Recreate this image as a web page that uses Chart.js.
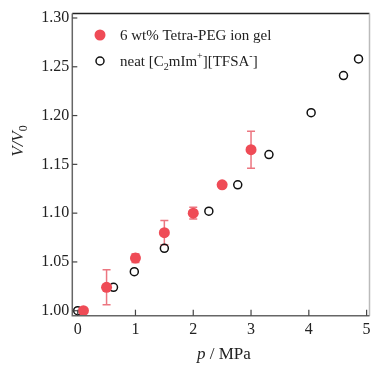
<!DOCTYPE html>
<html><head><meta charset="utf-8">
<script src="https://cdn.jsdelivr.net/npm/chart.js@4.4.0/dist/chart.umd.min.js"></script>
<style>html,body{margin:0;padding:0;background:#fff}#wrap{width:375px;height:366px;position:relative}</style>
</head><body><div id="wrap"><canvas id="c" width="375" height="366"></canvas></div>
<script>
// Data
const gelP = [0.1, 0.5, 1.0, 1.5, 2.0, 2.5, 3.0];
const gelV = [1.000, 1.024, 1.054, 1.080, 1.100, 1.129, 1.165];
const gelErr = [0, 0.018, 0.0045, 0.0125, 0.006, 0, 0.019];
const neatP = [0.0, 0.62, 0.98, 1.5, 2.27, 2.77, 3.31, 4.04, 4.60, 4.86];
const neatV = [1.000, 1.024, 1.040, 1.064, 1.102, 1.129, 1.160, 1.203, 1.241, 1.258];
const xTicks = [0, 1, 2, 3, 4, 5];
const yTicks = [1.00, 1.05, 1.10, 1.15, 1.20, 1.25, 1.30];
const gelLabel = "6 wt% Tetra-PEG ion gel";

const RED = '#ef4b56';
const ERR = '#ec7680';
const FONT = '"Liberation Serif", "Times New Roman", serif';

const decor = {
  id: 'decor',
  beforeDatasetsDraw(chart) {
    const ctx = chart.ctx, x = chart.scales.x, y = chart.scales.y;
    ctx.save();
    ctx.strokeStyle = ERR; ctx.lineWidth = 1.5;
    gelP.forEach((p, i) => {
      const e = gelErr[i]; if (!e) return;
      const px = x.getPixelForValue(p);
      const t = y.getPixelForValue(gelV[i] + e), b = y.getPixelForValue(gelV[i] - e);
      ctx.beginPath();
      ctx.moveTo(px, t); ctx.lineTo(px, b);
      ctx.moveTo(px - 4, t); ctx.lineTo(px + 4, t);
      ctx.moveTo(px - 4, b); ctx.lineTo(px + 4, b);
      ctx.stroke();
    });
    ctx.restore();
  },
  afterDraw(chart) {
    const ctx = chart.ctx, x = chart.scales.x, y = chart.scales.y, a = chart.chartArea;
    ctx.save();
    // frame
    ctx.lineWidth = 1.5;
    ctx.strokeStyle = '#222';
    ctx.beginPath(); ctx.moveTo(a.left, a.top); ctx.lineTo(a.right, a.top); ctx.stroke();
    ctx.strokeStyle = '#bbb';
    ctx.beginPath(); ctx.moveTo(a.right, a.top); ctx.lineTo(a.right, a.bottom); ctx.stroke();
    ctx.strokeStyle = '#666';
    ctx.beginPath(); ctx.moveTo(a.left, a.top); ctx.lineTo(a.left, a.bottom); ctx.lineTo(a.right, a.bottom); ctx.stroke();
    // inward ticks
    ctx.lineWidth = 1.2; ctx.strokeStyle = '#444';
    yTicks.forEach(v => { const py = y.getPixelForValue(v); ctx.beginPath(); ctx.moveTo(a.left, py); ctx.lineTo(a.left + 5, py); ctx.stroke(); });
    xTicks.forEach(v => { const px = x.getPixelForValue(v); ctx.beginPath(); ctx.moveTo(px, a.bottom); ctx.lineTo(px, a.bottom - 6); ctx.stroke(); });
    // axis titles
    ctx.fillStyle = '#222';
    ctx.textBaseline = 'alphabetic';
    let xt = 'p', rest = ' / MPa';
    ctx.font = '17px ' + FONT; const wr = ctx.measureText(rest).width;
    ctx.font = 'italic 17px ' + FONT; const wp = ctx.measureText(xt).width;
    let sx = (a.left + a.right) / 2 - (wr + wp) / 2 + 3;
    ctx.fillText(xt, sx, 359);
    ctx.font = '17px ' + FONT; ctx.fillText(rest, sx + wp, 359);
    // y title rotated
    ctx.save();
    ctx.translate(23, 141); ctx.rotate(-Math.PI / 2);
    ctx.font = 'italic 17px ' + FONT;
    const w1 = ctx.measureText('V/V').width;
    ctx.font = '12px ' + FONT; const w0 = ctx.measureText('0').width;
    let yx = -(w1 + w0) / 2;
    ctx.font = 'italic 17px ' + FONT; ctx.fillText('V/V', yx, 0);
    ctx.font = '12px ' + FONT; ctx.fillText('0', yx + w1, 4);
    ctx.restore();
    // legend
    ctx.fillStyle = RED;
    ctx.beginPath(); ctx.arc(100, 35, 5.5, 0, Math.PI * 2); ctx.fill();
    ctx.strokeStyle = '#111'; ctx.lineWidth = 1.5;
    ctx.beginPath(); ctx.arc(100, 61, 4, 0, Math.PI * 2); ctx.stroke();
    ctx.fillStyle = '#222';
    ctx.font = '15px ' + FONT;
    ctx.fillText(gelLabel, 120, 40);
    const parts = [['neat [C', 0, 15], ['2', 4, 10], ['mIm', 0, 15], ['+', -7, 10], [']', 0, 15], ['[TFSA', 0, 15], ['-', -7, 10], [']', 0, 15]];
    let lx = 120;
    parts.forEach(([t, dy, s]) => { ctx.font = s + 'px ' + FONT; ctx.fillText(t, lx, 66 + dy); lx += ctx.measureText(t).width; });
    ctx.restore();
  }
};

new Chart(document.getElementById('c'), {
  type: 'scatter',
  data: {
    datasets: [
      { label: gelLabel, data: gelP.map((p, i) => ({ x: p, y: gelV[i] })),
        pointRadius: 5.5, pointBackgroundColor: RED, pointBorderColor: RED, pointBorderWidth: 0 },
      { label: 'neat', data: neatP.map((p, i) => ({ x: p, y: neatV[i] })),
        pointRadius: 4, pointBackgroundColor: 'rgba(0,0,0,0)', pointBorderColor: '#111', pointBorderWidth: 1.5 }
    ]
  },
  options: {
    responsive: false, animation: false, devicePixelRatio: 1,
    layout: { padding: { top: 13.5, right: 0.5, left: 0, bottom: 0 } },
    plugins: { legend: { display: false }, tooltip: { enabled: false } },
    scales: {
      x: { type: 'linear', min: -0.093, max: 5.05,
        afterBuildTicks: s => { s.ticks = xTicks.map(v => ({ value: v })); },
        afterFit: s => { s.height = 50.3; },
        grid: { display: false, drawTicks: false }, border: { display: false },
        ticks: { padding: 4, color: '#222', font: { family: FONT, size: 16 } } },
      y: { type: 'linear', min: 0.9949, max: 1.3046,
        afterBuildTicks: s => { s.ticks = yTicks.map(v => ({ value: v })); },
        afterFit: s => { s.width = 72.3; },
        grid: { display: false, drawTicks: false }, border: { display: false },
        ticks: { padding: 3, color: '#222', font: { family: FONT, size: 16 }, callback: v => v.toFixed(2) } }
    }
  },
  plugins: [decor]
});
</script></body></html>
